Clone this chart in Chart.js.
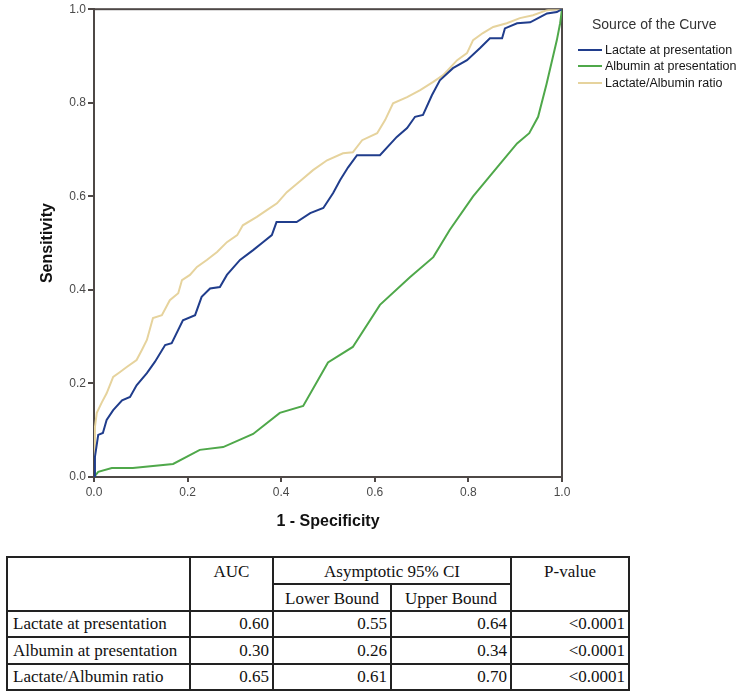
<!DOCTYPE html>
<html>
<head>
<meta charset="utf-8">
<script src="https://cdn.jsdelivr.net/npm/chart.js@4.4.1/dist/chart.umd.min.js"></script>
<style>
  html, body { margin: 0; padding: 0; background: #ffffff; }
  #wrap { position: relative; width: 746px; height: 695px; overflow: hidden; }
  #chartBox { position: absolute; left: 0; top: 0; width: 746px; height: 540px; }
  #legend { position: absolute; left: 578px; top: 0; font-family: "Liberation Sans", Arial, sans-serif; color: #151515; }
  #legend .ttl { position: absolute; left: 14px; top: 16px; font-size: 14px; white-space: nowrap; color: #333; }
  #legend .item { position: absolute; left: 0; white-space: nowrap; font-size: 12.5px; height: 16px; line-height: 16px; }
  #legend .sw { display: inline-block; width: 24px; height: 2px; vertical-align: middle; margin-right: 3px; position: relative; top: -1px; }
  table#stats { position: absolute; left: 6px; top: 556px; border-collapse: collapse; font-family: "Liberation Serif", "Times New Roman", serif; font-size: 17px; color: #111; }
  table#stats td { border: 2px solid #222; padding: 0 4px; line-height: 20px; }
  table#stats td.num { text-align: right; padding-right: 3px; }
  table#stats td.hd { text-align: center; vertical-align: top; padding-top: 4px; }
  table#stats td.lbl { text-align: left; padding-left: 5px; }
</style>
</head>
<body>
<div id="wrap">
  <div id="chartBox"><canvas id="c"></canvas></div>
  <div id="legend"></div>
  <table id="stats"></table>
</div>
<script>
// ----- data -----
const seriesNames = ["Lactate at presentation", "Albumin at presentation", "Lactate/Albumin ratio"];
const seriesColors = ["#203d8c", "#4fa84a", "#e6d39d"];

const lactateFPR = [0, 0.002, 0.009, 0.019, 0.027, 0.041, 0.06, 0.077, 0.091, 0.113, 0.13, 0.152, 0.166, 0.19, 0.216, 0.23, 0.248, 0.269, 0.284, 0.312, 0.34, 0.361, 0.38, 0.39, 0.433, 0.462, 0.49, 0.511, 0.526, 0.543, 0.562, 0.611, 0.647, 0.669, 0.686, 0.703, 0.722, 0.739, 0.767, 0.797, 0.825, 0.846, 0.872, 0.878, 0.904, 0.932, 0.953, 0.968, 0.989, 1.0];
const lactateTPR = [0, 0.043, 0.09, 0.094, 0.122, 0.143, 0.164, 0.171, 0.196, 0.222, 0.246, 0.282, 0.286, 0.335, 0.346, 0.385, 0.403, 0.406, 0.432, 0.464, 0.485, 0.502, 0.517, 0.545, 0.545, 0.564, 0.575, 0.607, 0.635, 0.662, 0.688, 0.688, 0.727, 0.746, 0.77, 0.774, 0.816, 0.848, 0.874, 0.891, 0.917, 0.938, 0.938, 0.959, 0.97, 0.972, 0.983, 0.991, 0.994, 1.0];

const albuminFPR = [0, 0.009, 0.038, 0.083, 0.169, 0.226, 0.276, 0.34, 0.397, 0.447, 0.50, 0.553, 0.611, 0.675, 0.725, 0.76, 0.81, 0.868, 0.904, 0.93, 0.949, 0.967, 0.989, 0.996, 1.0];
const albuminTPR = [0, 0.011, 0.019, 0.019, 0.028, 0.058, 0.064, 0.092, 0.137, 0.152, 0.245, 0.278, 0.368, 0.427, 0.47, 0.528, 0.60, 0.67, 0.713, 0.735, 0.77, 0.84, 0.934, 0.97, 1.0];

const ratioFPR = [0, 0.002, 0.006, 0.017, 0.027, 0.041, 0.055, 0.07, 0.091, 0.102, 0.113, 0.126, 0.145, 0.162, 0.18, 0.188, 0.205, 0.22, 0.241, 0.263, 0.284, 0.306, 0.318, 0.348, 0.37, 0.391, 0.412, 0.44, 0.468, 0.498, 0.532, 0.553, 0.573, 0.605, 0.622, 0.639, 0.669, 0.697, 0.724, 0.746, 0.776, 0.797, 0.81, 0.831, 0.853, 0.882, 0.91, 0.938, 0.968, 0.989, 1.0];
const ratioTPR = [0, 0.107, 0.137, 0.16, 0.179, 0.214, 0.224, 0.235, 0.25, 0.271, 0.293, 0.34, 0.346, 0.378, 0.393, 0.421, 0.432, 0.449, 0.464, 0.481, 0.502, 0.517, 0.538, 0.556, 0.571, 0.585, 0.609, 0.632, 0.656, 0.677, 0.692, 0.694, 0.72, 0.735, 0.763, 0.799, 0.812, 0.827, 0.844, 0.859, 0.891, 0.906, 0.934, 0.949, 0.962, 0.97, 0.981, 0.987, 0.998, 1.0, 1.0];

const tickValues = [0.0, 0.2, 0.4, 0.6, 0.8, 1.0];
const xTitle = "1 - Specificity";
const yTitle = "Sensitivity";
const legendTitle = "Source of the Curve";

// table data
const tableRows = ["Lactate at presentation", "Albumin at presentation", "Lactate/Albumin ratio"];
const aucValues = ["0.60", "0.30", "0.65"];
const lowerBounds = ["0.55", "0.26", "0.61"];
const upperBounds = ["0.64", "0.34", "0.70"];
const pValues = ["<0.0001", "<0.0001", "<0.0001"];

// ----- build chart -----
function pts(xs, ys) { return xs.map((x, i) => ({ x: x, y: ys[i] })); }
const fprs = [lactateFPR, albuminFPR, ratioFPR];
const tprs = [lactateTPR, albuminTPR, ratioTPR];

const datasets = seriesNames.map((n, i) => ({
  label: n,
  data: pts(fprs[i], tprs[i]),
  borderColor: seriesColors[i],
  backgroundColor: seriesColors[i],
  borderWidth: 2,
  pointRadius: 0,
  tension: 0,
  fill: false
}));

const axisColor = '#4e4846';
const frame = {
  id: 'frame',
  beforeDatasetsDraw(chart) {
    const a = chart.chartArea, ctx = chart.ctx;
    ctx.save();
    ctx.strokeStyle = axisColor;
    ctx.lineWidth = 2;
    ctx.strokeRect(a.left, a.top, a.right - a.left, a.bottom - a.top);
    ctx.restore();
  }
};

new Chart(document.getElementById('c'), {
  type: 'line',
  data: { datasets: datasets },
  plugins: [frame],
  options: {
    responsive: true,
    maintainAspectRatio: false,
    animation: false,
    layout: { padding: { left: 0, right: 184, top: 9, bottom: 0 } },
    plugins: { legend: { display: false }, tooltip: { enabled: false } },
    scales: {
      x: {
        type: 'linear', min: 0, max: 1,
        afterBuildTicks(s) { s.ticks = tickValues.map(v => ({ value: v })); },
        afterFit(s) { s.height = 63; },
        ticks: { callback: v => Number(v).toFixed(1), font: { family: 'Liberation Sans', size: 12 }, color: '#4a4a4a', padding: 3, maxRotation: 0 },
        grid: { drawOnChartArea: false, drawTicks: true, tickLength: 5, color: axisColor, lineWidth: 2 },
        border: { display: true, color: axisColor, width: 2 },
        title: { display: true, text: xTitle, font: { family: 'Liberation Sans', size: 16, weight: 'bold' }, color: '#111', padding: { top: 0, bottom: 8.4 } }
      },
      y: {
        type: 'linear', min: 0, max: 1,
        afterBuildTicks(s) { s.ticks = tickValues.map(v => ({ value: v })); },
        afterFit(s) { s.width = 94; },
        ticks: { callback: v => Number(v).toFixed(1), font: { family: 'Liberation Sans', size: 12 }, color: '#4a4a4a', padding: 2 },
        grid: { drawOnChartArea: false, drawTicks: true, tickLength: 6, color: axisColor, lineWidth: 2 },
        border: { display: true, color: axisColor, width: 2 },
        title: { display: true, text: yTitle, font: { family: 'Liberation Sans', size: 16, weight: 'bold' }, color: '#111', padding: { top: 38.4, bottom: 0 } }
      }
    }
  }
});

// ----- legend -----
const lg = document.getElementById('legend');
const t = document.createElement('div');
t.className = 'ttl'; t.textContent = legendTitle; lg.appendChild(t);
const itemTops = [42, 58, 75];
seriesNames.forEach((n, i) => {
  const d = document.createElement('div');
  d.className = 'item';
  d.style.top = itemTops[i] + 'px';
  const sw = document.createElement('span');
  sw.className = 'sw'; sw.style.background = seriesColors[i];
  d.appendChild(sw);
  d.appendChild(document.createTextNode(n));
  lg.appendChild(d);
});

// ----- table -----
const tb = document.getElementById('stats');
const colW = [183, 83, 118, 120, 118];
let html = '<colgroup>' + colW.map(w => '<col style="width:' + w + 'px">').join('') + '</colgroup>';
html += '<tr style="height:27px"><td rowspan="2"></td><td rowspan="2" class="hd">AUC</td><td colspan="2" class="hd" style="text-align:center">Asymptotic 95% CI</td><td rowspan="2" class="hd">P-value</td></tr>';
html += '<tr style="height:27px"><td class="hd">Lower Bound</td><td class="hd">Upper Bound</td></tr>';
const rh = [26, 27, 26];
tableRows.forEach((r, i) => {
  html += '<tr style="height:' + rh[i] + 'px"><td class="lbl">' + r + '</td><td class="num">' + aucValues[i] + '</td><td class="num">' + lowerBounds[i] + '</td><td class="num">' + upperBounds[i] + '</td><td class="num">' + pValues[i].replace('<', '&lt;') + '</td></tr>';
});
tb.innerHTML = html;
tb.style.width = colW.reduce((a, b) => a + b, 0) + 'px';
tb.style.tableLayout = 'fixed';
</script>
</body>
</html>
